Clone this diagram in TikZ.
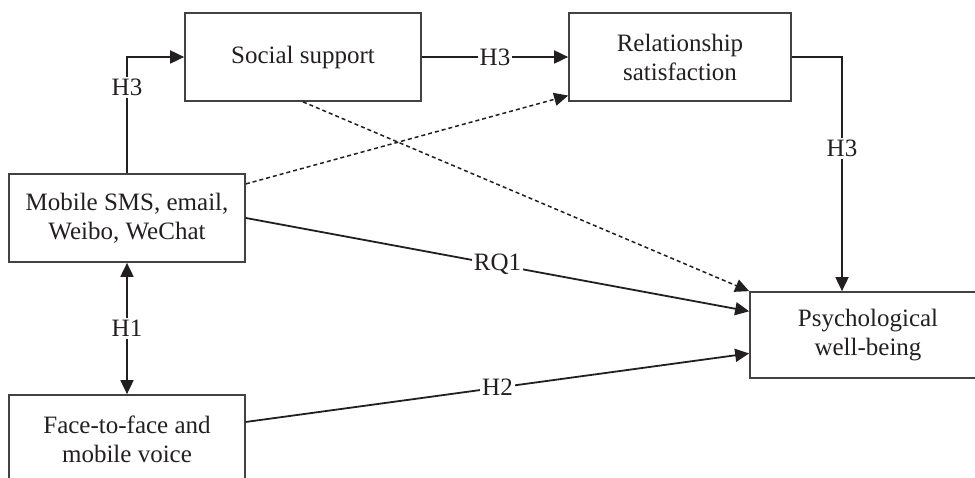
\documentclass[tikz,border=0pt]{standalone}
\usepackage{fontspec}
\setmainfont{Liberation Serif}
\usetikzlibrary{arrows.meta,calc}
\definecolor{ink}{HTML}{231F20}
\tikzset{
  box/.style={draw=ink!85, line width=1.7pt, minimum height=88pt, align=center, text=ink,
    font=\fontsize{25}{29}\selectfont, inner sep=0pt},
  arr/.style={draw=ink, line width=1.8pt, -{Triangle[length=14pt,width=13pt]}},
  arrtwo/.style={draw=ink, line width=1.8pt, {Triangle[length=14pt,width=13pt]}-{Triangle[length=14pt,width=13pt]}},
  dsh/.style={draw=ink, line width=1.5pt, dash pattern=on 4pt off 3pt, -{Triangle[length=14pt,width=13pt]}},
  lbl/.style={fill=white, text=ink, inner sep=2pt, font=\fontsize{25}{29}\selectfont}
}
\begin{document}
\begin{tikzpicture}[x=1pt,y=-1pt]
\useasboundingbox (0,0) rectangle (975,478);
\begin{scope}
\clip (0,0) rectangle (975,478);
\node[box, minimum width=236pt] (SS) at (303,57) {Social support};
\node[box, minimum width=222pt] (RS) at (680,57) {Relationship\\satisfaction};
\node[box, minimum width=236pt] (MS) at (127,218) {Mobile SMS, email,\\Weibo, WeChat};
\node[box, minimum width=236pt] (FF) at (127,439) {Face-to-face and\\mobile voice};
\node[box, minimum width=236pt, minimum height=86pt] (PW) at (868,335) {Psychological\\well-being};
\coordinate (c1) at (MS.north |- SS.west);
\coordinate (c2) at (842,57);
\draw[arr] (MS.north) -- node[lbl,pos=0.74]{H3} (c1) -- (SS.west);
\draw[arr] (SS.east) -- node[lbl]{H3} (RS.west);
\draw[arr] (RS.east) -- (c2) -- node[lbl,pos=0.39]{H3} (c2 |- PW.north);
\draw[dsh] ($(MS.north east)!0.12!(MS.south east)$) -- ($(RS.south west)!0.07!(RS.north west)$);
\draw[dsh] (SS.south) -- (PW.north west);
\draw[arr] (MS.east) -- node[lbl]{RQ1} ($(PW.north west)!0.23!(PW.south west)$);
\draw[arr] ($(FF.north east)!0.31!(FF.south east)$) -- node[lbl]{H2} ($(PW.north west)!0.71!(PW.south west)$);
\draw[arrtwo] (MS.south) -- node[lbl]{H1} (FF.north);
\end{scope}
\end{tikzpicture}
\end{document}
